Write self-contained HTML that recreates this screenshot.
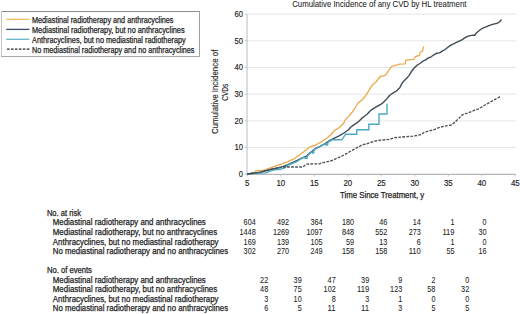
<!DOCTYPE html><html><head><meta charset="utf-8"><style>html,body{margin:0;padding:0;background:#fff;width:520px;height:314px;overflow:hidden}svg{display:block}text{font-family:"Liberation Sans",sans-serif}</style></head><body>
<svg width="520" height="314" viewBox="0 0 520 314">
<line x1="1" y1="11.5" x2="200" y2="11.5" stroke="#8c8c8c" stroke-width="1"/>
<line x1="1.5" y1="11" x2="1.5" y2="57" stroke="#c4c4c4" stroke-width="1"/>
<line x1="199.5" y1="11" x2="199.5" y2="57" stroke="#a0a0a0" stroke-width="1"/>
<line x1="1" y1="56.5" x2="200" y2="56.5" stroke="#a8a8a8" stroke-width="1"/>
<line x1="6.2" y1="19.4" x2="29.5" y2="19.4" stroke="#efbb62" stroke-width="1.3"/>
<text x="32" y="22.7" font-size="8.4" fill="#1e1e1e" stroke="#1e1e1e" stroke-width="0.25" textLength="141.5" lengthAdjust="spacingAndGlyphs">Mediastinal radiotherapy and anthracyclines</text>
<line x1="6.2" y1="29.4" x2="29.5" y2="29.4" stroke="#3b4c6b" stroke-width="1.3"/>
<text x="32" y="32.7" font-size="8.4" fill="#1e1e1e" stroke="#1e1e1e" stroke-width="0.25" textLength="152.6" lengthAdjust="spacingAndGlyphs">Mediastinal radiotherapy, but no anthracyclines</text>
<line x1="6.2" y1="39.3" x2="29.5" y2="39.3" stroke="#66b6ca" stroke-width="1.3"/>
<text x="32" y="42.7" font-size="8.4" fill="#1e1e1e" stroke="#1e1e1e" stroke-width="0.25" textLength="153.7" lengthAdjust="spacingAndGlyphs">Anthracyclines, but no mediastinal radiotherapy</text>
<line x1="7" y1="49.2" x2="29.5" y2="49.2" stroke="#2a2a2a" stroke-width="1.3" stroke-dasharray="2.6 1.35"/>
<text x="32" y="52.7" font-size="8.4" fill="#1e1e1e" stroke="#1e1e1e" stroke-width="0.25" textLength="162.5" lengthAdjust="spacingAndGlyphs">No mediastinal radiotherapy and no anthracyclines</text>
<text x="292.2" y="6.8" font-size="8.4" fill="#222" stroke="#222" stroke-width="0.06" textLength="174.3" lengthAdjust="spacingAndGlyphs">Cumulative Incidence of any CVD by HL treatment</text>
<line x1="247" y1="147.5" x2="516" y2="147.5" stroke="#e6e6e6" stroke-width="1"/>
<line x1="247" y1="120.9" x2="516" y2="120.9" stroke="#e6e6e6" stroke-width="1"/>
<line x1="247" y1="94.2" x2="516" y2="94.2" stroke="#e6e6e6" stroke-width="1"/>
<line x1="247" y1="67.5" x2="516" y2="67.5" stroke="#e6e6e6" stroke-width="1"/>
<line x1="247" y1="40.8" x2="516" y2="40.8" stroke="#e6e6e6" stroke-width="1"/>
<line x1="247" y1="14.2" x2="516" y2="14.2" stroke="#e6e6e6" stroke-width="1"/>
<line x1="247" y1="14" x2="247" y2="174.3" stroke="#bcbcbc" stroke-width="1"/>
<line x1="247" y1="174.3" x2="515.8" y2="174.3" stroke="#a4a4a4" stroke-width="1"/>
<line x1="245" y1="174.2" x2="247" y2="174.2" stroke="#c4c4c4" stroke-width="1"/>
<text x="243.0" y="177.1" font-size="8.6" fill="#222" stroke="#222" stroke-width="0.15" text-anchor="end" textLength="4.2" lengthAdjust="spacingAndGlyphs">0</text>
<line x1="245" y1="147.5" x2="247" y2="147.5" stroke="#c4c4c4" stroke-width="1"/>
<text x="243.0" y="150.4" font-size="8.6" fill="#222" stroke="#222" stroke-width="0.15" text-anchor="end" textLength="8.5" lengthAdjust="spacingAndGlyphs">10</text>
<line x1="245" y1="120.9" x2="247" y2="120.9" stroke="#c4c4c4" stroke-width="1"/>
<text x="243.0" y="123.8" font-size="8.6" fill="#222" stroke="#222" stroke-width="0.15" text-anchor="end" textLength="8.5" lengthAdjust="spacingAndGlyphs">20</text>
<line x1="245" y1="94.2" x2="247" y2="94.2" stroke="#c4c4c4" stroke-width="1"/>
<text x="243.0" y="97.1" font-size="8.6" fill="#222" stroke="#222" stroke-width="0.15" text-anchor="end" textLength="8.5" lengthAdjust="spacingAndGlyphs">30</text>
<line x1="245" y1="67.5" x2="247" y2="67.5" stroke="#c4c4c4" stroke-width="1"/>
<text x="243.0" y="70.4" font-size="8.6" fill="#222" stroke="#222" stroke-width="0.15" text-anchor="end" textLength="8.5" lengthAdjust="spacingAndGlyphs">40</text>
<line x1="245" y1="40.8" x2="247" y2="40.8" stroke="#c4c4c4" stroke-width="1"/>
<text x="243.0" y="43.7" font-size="8.6" fill="#222" stroke="#222" stroke-width="0.15" text-anchor="end" textLength="8.5" lengthAdjust="spacingAndGlyphs">50</text>
<line x1="245" y1="14.2" x2="247" y2="14.2" stroke="#c4c4c4" stroke-width="1"/>
<text x="243.0" y="17.1" font-size="8.6" fill="#222" stroke="#222" stroke-width="0.15" text-anchor="end" textLength="8.5" lengthAdjust="spacingAndGlyphs">60</text>
<line x1="247.3" y1="174.3" x2="247.3" y2="176.5" stroke="#c4c4c4" stroke-width="1"/>
<text x="247.3" y="185.7" font-size="8.6" fill="#222" stroke="#222" stroke-width="0.15" text-anchor="middle" textLength="4.4" lengthAdjust="spacingAndGlyphs">5</text>
<line x1="280.8" y1="174.3" x2="280.8" y2="176.5" stroke="#c4c4c4" stroke-width="1"/>
<text x="280.8" y="185.7" font-size="8.6" fill="#222" stroke="#222" stroke-width="0.15" text-anchor="middle" textLength="8.8" lengthAdjust="spacingAndGlyphs">10</text>
<line x1="314.3" y1="174.3" x2="314.3" y2="176.5" stroke="#c4c4c4" stroke-width="1"/>
<text x="314.3" y="185.7" font-size="8.6" fill="#222" stroke="#222" stroke-width="0.15" text-anchor="middle" textLength="8.8" lengthAdjust="spacingAndGlyphs">15</text>
<line x1="347.8" y1="174.3" x2="347.8" y2="176.5" stroke="#c4c4c4" stroke-width="1"/>
<text x="347.8" y="185.7" font-size="8.6" fill="#222" stroke="#222" stroke-width="0.15" text-anchor="middle" textLength="8.8" lengthAdjust="spacingAndGlyphs">20</text>
<line x1="381.3" y1="174.3" x2="381.3" y2="176.5" stroke="#c4c4c4" stroke-width="1"/>
<text x="381.3" y="185.7" font-size="8.6" fill="#222" stroke="#222" stroke-width="0.15" text-anchor="middle" textLength="8.8" lengthAdjust="spacingAndGlyphs">25</text>
<line x1="414.8" y1="174.3" x2="414.8" y2="176.5" stroke="#c4c4c4" stroke-width="1"/>
<text x="414.8" y="185.7" font-size="8.6" fill="#222" stroke="#222" stroke-width="0.15" text-anchor="middle" textLength="8.8" lengthAdjust="spacingAndGlyphs">30</text>
<line x1="448.3" y1="174.3" x2="448.3" y2="176.5" stroke="#c4c4c4" stroke-width="1"/>
<text x="448.3" y="185.7" font-size="8.6" fill="#222" stroke="#222" stroke-width="0.15" text-anchor="middle" textLength="8.8" lengthAdjust="spacingAndGlyphs">35</text>
<line x1="481.8" y1="174.3" x2="481.8" y2="176.5" stroke="#c4c4c4" stroke-width="1"/>
<text x="481.8" y="185.7" font-size="8.6" fill="#222" stroke="#222" stroke-width="0.15" text-anchor="middle" textLength="8.8" lengthAdjust="spacingAndGlyphs">40</text>
<line x1="515.3" y1="174.3" x2="515.3" y2="176.5" stroke="#c4c4c4" stroke-width="1"/>
<text x="515.3" y="185.7" font-size="8.6" fill="#222" stroke="#222" stroke-width="0.15" text-anchor="middle" textLength="8.8" lengthAdjust="spacingAndGlyphs">45</text>
<text x="340" y="198.2" font-size="8.5" fill="#1e1e1e" stroke="#1e1e1e" stroke-width="0.25" textLength="84.2" lengthAdjust="spacingAndGlyphs">Time Since Treatment, y</text>
<text transform="translate(217.6,134) rotate(-90)" x="0" y="0" font-size="8.5" fill="#2a2a2a" stroke="#2a2a2a" stroke-width="0.15" textLength="84.4" lengthAdjust="spacingAndGlyphs">Cumulative Incidence of</text>
<text transform="translate(228.0,100.8) rotate(-90)" x="0" y="0" font-size="8.5" fill="#2a2a2a" stroke="#2a2a2a" stroke-width="0.15" textLength="17" lengthAdjust="spacingAndGlyphs">CVDs</text>
<polyline points="247.3,174.0 255.5,172.9 255.5,170.8 263.0,170.5 269.2,168.4 275.2,166.2 281.3,164.2 287.3,161.8 293.4,159.2 299.4,155.0 305.0,150.8 309.1,147.6 312.3,146.0 315.5,145.1 321.8,141.6 328.2,137.0 331.0,134.5 334.3,130.6 339.1,127.7 343.9,123.0 345.0,120.1 347.8,117.3 350.6,114.0 353.4,110.6 356.2,106.0 357.5,103.7 360.0,101.5 363.0,99.0 366.5,94.4 370.0,88.7 372.9,84.4 376.5,81.5 380.1,76.5 383.7,75.8 386.0,74.6 388.7,70.4 391.6,66.3 397.2,64.9 399.6,64.1 405.1,63.8 405.9,60.1 413.9,59.3 415.5,56.5 419.5,55.4 420.3,52.2 422.7,51.0 423.5,46.4" fill="none" stroke="#eca94e" stroke-width="1.3" stroke-linejoin="round"/>
<polyline points="247.3,174.0 255.5,172.9 261.2,172.2 265.0,171.0 269.2,169.8 275.2,168.5 281.3,167.2 287.3,164.8 293.4,162.2 299.4,159.3 302.7,157.6 305.0,157.0 306.6,156.0 309.1,153.6 315.5,148.5 320.0,146.3 324.8,143.8 329.5,140.6 334.3,138.2 339.1,135.8 343.9,133.0 348.3,130.0 350.6,127.3 353.4,125.1 356.2,123.4 358.9,121.2 361.7,118.4 364.5,116.2 367.3,114.0 370.1,111.0 372.9,108.9 375.0,107.7 377.4,106.2 379.8,105.0 382.2,103.4 384.5,101.2 386.9,98.6 389.3,95.7 391.7,93.8 394.1,92.4 396.5,91.0 397.9,89.5 399.8,87.8 401.7,83.8 403.4,81.6 406.2,78.8 409.0,75.6 411.7,71.2 414.5,67.8 417.3,65.0 420.0,63.5 422.8,61.2 425.6,59.9 428.4,57.9 431.2,56.8 433.9,54.8 436.7,53.2 439.5,52.9 442.3,51.2 445.1,49.5 447.9,47.3 450.8,45.1 453.6,43.8 456.4,42.3 459.2,41.2 461.9,39.8 464.7,37.9 467.5,36.4 470.3,35.6 473.1,35.1 474.8,35.3 475.9,33.4 477.8,31.7 480.6,29.5 483.4,27.8 486.1,26.9 488.9,25.6 491.7,24.7 494.5,23.9 497.3,23.2 499.5,22.0 500.6,20.6 501.5,19.5" fill="none" stroke="#3e4b54" stroke-width="1.4" stroke-linejoin="round"/>
<polyline points="247.3,174.0 255.5,173.2 265.8,172.9 272.7,170.0 280.4,169.3 284.2,168.2 288.1,165.1 292.0,163.5 295.8,162.0 300.0,159.5 302.7,157.8 304.6,157.4 305.0,158.2 307.0,158.2 307.5,156.0 309.1,154.0 312.0,151.6 312.5,153.0 313.6,153.0 314.0,150.2 315.5,148.8 320.0,146.5 324.8,144.0 325.7,144.0 326.0,145.0 327.6,145.0 328.0,142.0 332.4,139.8 341.7,139.8 345.6,134.2 356.8,134.2 356.8,129.8 368.8,129.8 368.8,124.3 379.0,124.3 379.0,114.0 387.0,114.0 387.0,103.8" fill="none" stroke="#4aa8c4" stroke-width="1.4" stroke-linejoin="miter"/>
<polyline points="247.3,174.0 255.5,172.9" fill="none" stroke="#3e4b54" stroke-width="1.4" stroke-linejoin="round"/>
<polyline points="247.3,174.0 255.5,172.9 261.2,172.0 265.0,170.6 272.7,169.0 280.4,167.3 283.0,167.0 302.7,167.0 306.6,164.1 319.3,163.8 325.0,162.2 330.6,161.0 333.4,160.0 336.1,158.6 341.7,156.2 347.3,153.2 352.9,149.9 358.4,147.0 362.0,144.9 366.0,144.0 370.0,142.7 374.0,141.3 377.9,140.5 381.9,140.1 385.9,139.7 389.9,139.3 393.9,137.7 397.9,137.4 402.0,137.0 408.6,136.5 412.9,136.1 417.2,135.5 421.5,134.4 423.7,132.6 425.8,131.8 430.1,130.7 434.4,129.5 438.7,127.7 442.8,126.5 447.5,125.6 451.4,125.0 454.7,122.4 457.1,120.0 459.5,117.7 462.3,114.8 466.6,113.4 471.4,111.5 476.2,109.5 478.1,109.1 482.3,106.7 486.4,104.2 490.6,101.9 494.7,99.6 498.9,97.3 500.5,96.3" fill="none" stroke="#4a5259" stroke-width="1.35" stroke-dasharray="2.8 1.25"/>
<text x="46.9" y="215.8" font-size="8.5" fill="#1e1e1e" stroke="#1e1e1e" stroke-width="0.25" textLength="34.1" lengthAdjust="spacingAndGlyphs">No. at risk</text>
<text x="52.8" y="225.4" font-size="8.5" fill="#1e1e1e" stroke="#1e1e1e" stroke-width="0.25" textLength="153.0" lengthAdjust="spacingAndGlyphs">Mediastinal radiotherapy and anthracyclines</text>
<text x="255.7" y="225.4" font-size="8.5" fill="#1a1a1a" stroke="#1a1a1a" stroke-width="0.05" text-anchor="end" textLength="12.1" lengthAdjust="spacingAndGlyphs">604</text>
<text x="289.1" y="225.4" font-size="8.5" fill="#1a1a1a" stroke="#1a1a1a" stroke-width="0.05" text-anchor="end" textLength="12.1" lengthAdjust="spacingAndGlyphs">492</text>
<text x="322.6" y="225.4" font-size="8.5" fill="#1a1a1a" stroke="#1a1a1a" stroke-width="0.05" text-anchor="end" textLength="12.1" lengthAdjust="spacingAndGlyphs">364</text>
<text x="354.1" y="225.4" font-size="8.5" fill="#1a1a1a" stroke="#1a1a1a" stroke-width="0.05" text-anchor="end" textLength="12.1" lengthAdjust="spacingAndGlyphs">180</text>
<text x="387.3" y="225.4" font-size="8.5" fill="#1a1a1a" stroke="#1a1a1a" stroke-width="0.05" text-anchor="end" textLength="8.1" lengthAdjust="spacingAndGlyphs">46</text>
<text x="420.8" y="225.4" font-size="8.5" fill="#1a1a1a" stroke="#1a1a1a" stroke-width="0.05" text-anchor="end" textLength="8.1" lengthAdjust="spacingAndGlyphs">14</text>
<text x="454.5" y="225.4" font-size="8.5" fill="#1a1a1a" stroke="#1a1a1a" stroke-width="0.05" text-anchor="end" textLength="4.0" lengthAdjust="spacingAndGlyphs">1</text>
<text x="486.5" y="225.4" font-size="8.5" fill="#1a1a1a" stroke="#1a1a1a" stroke-width="0.05" text-anchor="end" textLength="4.0" lengthAdjust="spacingAndGlyphs">0</text>
<text x="52.8" y="235.0" font-size="8.5" fill="#1e1e1e" stroke="#1e1e1e" stroke-width="0.25" textLength="164.4" lengthAdjust="spacingAndGlyphs">Mediastinal radiotherapy, but no anthracyclines</text>
<text x="255.7" y="235.0" font-size="8.5" fill="#1a1a1a" stroke="#1a1a1a" stroke-width="0.05" text-anchor="end" textLength="16.2" lengthAdjust="spacingAndGlyphs">1448</text>
<text x="289.1" y="235.0" font-size="8.5" fill="#1a1a1a" stroke="#1a1a1a" stroke-width="0.05" text-anchor="end" textLength="16.2" lengthAdjust="spacingAndGlyphs">1269</text>
<text x="322.6" y="235.0" font-size="8.5" fill="#1a1a1a" stroke="#1a1a1a" stroke-width="0.05" text-anchor="end" textLength="16.2" lengthAdjust="spacingAndGlyphs">1097</text>
<text x="354.1" y="235.0" font-size="8.5" fill="#1a1a1a" stroke="#1a1a1a" stroke-width="0.05" text-anchor="end" textLength="12.1" lengthAdjust="spacingAndGlyphs">848</text>
<text x="387.3" y="235.0" font-size="8.5" fill="#1a1a1a" stroke="#1a1a1a" stroke-width="0.05" text-anchor="end" textLength="12.1" lengthAdjust="spacingAndGlyphs">552</text>
<text x="420.8" y="235.0" font-size="8.5" fill="#1a1a1a" stroke="#1a1a1a" stroke-width="0.05" text-anchor="end" textLength="12.1" lengthAdjust="spacingAndGlyphs">273</text>
<text x="454.5" y="235.0" font-size="8.5" fill="#1a1a1a" stroke="#1a1a1a" stroke-width="0.05" text-anchor="end" textLength="12.1" lengthAdjust="spacingAndGlyphs">119</text>
<text x="486.5" y="235.0" font-size="8.5" fill="#1a1a1a" stroke="#1a1a1a" stroke-width="0.05" text-anchor="end" textLength="8.1" lengthAdjust="spacingAndGlyphs">30</text>
<text x="52.8" y="244.6" font-size="8.5" fill="#1e1e1e" stroke="#1e1e1e" stroke-width="0.25" textLength="165.7" lengthAdjust="spacingAndGlyphs">Anthracyclines, but no mediastinal radiotherapy</text>
<text x="255.7" y="244.6" font-size="8.5" fill="#1a1a1a" stroke="#1a1a1a" stroke-width="0.05" text-anchor="end" textLength="12.1" lengthAdjust="spacingAndGlyphs">169</text>
<text x="289.1" y="244.6" font-size="8.5" fill="#1a1a1a" stroke="#1a1a1a" stroke-width="0.05" text-anchor="end" textLength="12.1" lengthAdjust="spacingAndGlyphs">139</text>
<text x="322.6" y="244.6" font-size="8.5" fill="#1a1a1a" stroke="#1a1a1a" stroke-width="0.05" text-anchor="end" textLength="12.1" lengthAdjust="spacingAndGlyphs">105</text>
<text x="354.1" y="244.6" font-size="8.5" fill="#1a1a1a" stroke="#1a1a1a" stroke-width="0.05" text-anchor="end" textLength="8.1" lengthAdjust="spacingAndGlyphs">59</text>
<text x="387.3" y="244.6" font-size="8.5" fill="#1a1a1a" stroke="#1a1a1a" stroke-width="0.05" text-anchor="end" textLength="8.1" lengthAdjust="spacingAndGlyphs">13</text>
<text x="420.8" y="244.6" font-size="8.5" fill="#1a1a1a" stroke="#1a1a1a" stroke-width="0.05" text-anchor="end" textLength="4.0" lengthAdjust="spacingAndGlyphs">6</text>
<text x="454.5" y="244.6" font-size="8.5" fill="#1a1a1a" stroke="#1a1a1a" stroke-width="0.05" text-anchor="end" textLength="4.0" lengthAdjust="spacingAndGlyphs">1</text>
<text x="486.5" y="244.6" font-size="8.5" fill="#1a1a1a" stroke="#1a1a1a" stroke-width="0.05" text-anchor="end" textLength="4.0" lengthAdjust="spacingAndGlyphs">0</text>
<text x="52.8" y="254.2" font-size="8.5" fill="#1e1e1e" stroke="#1e1e1e" stroke-width="0.25" textLength="175.3" lengthAdjust="spacingAndGlyphs">No mediastinal radiotherapy and no anthracyclines</text>
<text x="255.7" y="254.2" font-size="8.5" fill="#1a1a1a" stroke="#1a1a1a" stroke-width="0.05" text-anchor="end" textLength="12.1" lengthAdjust="spacingAndGlyphs">302</text>
<text x="289.1" y="254.2" font-size="8.5" fill="#1a1a1a" stroke="#1a1a1a" stroke-width="0.05" text-anchor="end" textLength="12.1" lengthAdjust="spacingAndGlyphs">270</text>
<text x="322.6" y="254.2" font-size="8.5" fill="#1a1a1a" stroke="#1a1a1a" stroke-width="0.05" text-anchor="end" textLength="12.1" lengthAdjust="spacingAndGlyphs">249</text>
<text x="354.1" y="254.2" font-size="8.5" fill="#1a1a1a" stroke="#1a1a1a" stroke-width="0.05" text-anchor="end" textLength="12.1" lengthAdjust="spacingAndGlyphs">158</text>
<text x="387.3" y="254.2" font-size="8.5" fill="#1a1a1a" stroke="#1a1a1a" stroke-width="0.05" text-anchor="end" textLength="12.1" lengthAdjust="spacingAndGlyphs">158</text>
<text x="420.8" y="254.2" font-size="8.5" fill="#1a1a1a" stroke="#1a1a1a" stroke-width="0.05" text-anchor="end" textLength="12.1" lengthAdjust="spacingAndGlyphs">110</text>
<text x="454.5" y="254.2" font-size="8.5" fill="#1a1a1a" stroke="#1a1a1a" stroke-width="0.05" text-anchor="end" textLength="8.1" lengthAdjust="spacingAndGlyphs">55</text>
<text x="486.5" y="254.2" font-size="8.5" fill="#1a1a1a" stroke="#1a1a1a" stroke-width="0.05" text-anchor="end" textLength="8.1" lengthAdjust="spacingAndGlyphs">16</text>
<text x="46.9" y="272.9" font-size="8.5" fill="#1e1e1e" stroke="#1e1e1e" stroke-width="0.25" textLength="45" lengthAdjust="spacingAndGlyphs">No. of events</text>
<text x="52.8" y="282.5" font-size="8.5" fill="#1e1e1e" stroke="#1e1e1e" stroke-width="0.25" textLength="153.0" lengthAdjust="spacingAndGlyphs">Mediastinal radiotherapy and anthracyclines</text>
<text x="268.2" y="282.5" font-size="8.5" fill="#1a1a1a" stroke="#1a1a1a" stroke-width="0.05" text-anchor="end" textLength="8.1" lengthAdjust="spacingAndGlyphs">22</text>
<text x="301.7" y="282.5" font-size="8.5" fill="#1a1a1a" stroke="#1a1a1a" stroke-width="0.05" text-anchor="end" textLength="8.1" lengthAdjust="spacingAndGlyphs">39</text>
<text x="335.7" y="282.5" font-size="8.5" fill="#1a1a1a" stroke="#1a1a1a" stroke-width="0.05" text-anchor="end" textLength="8.1" lengthAdjust="spacingAndGlyphs">47</text>
<text x="369.2" y="282.5" font-size="8.5" fill="#1a1a1a" stroke="#1a1a1a" stroke-width="0.05" text-anchor="end" textLength="8.1" lengthAdjust="spacingAndGlyphs">39</text>
<text x="402.2" y="282.5" font-size="8.5" fill="#1a1a1a" stroke="#1a1a1a" stroke-width="0.05" text-anchor="end" textLength="4.0" lengthAdjust="spacingAndGlyphs">9</text>
<text x="435.4" y="282.5" font-size="8.5" fill="#1a1a1a" stroke="#1a1a1a" stroke-width="0.05" text-anchor="end" textLength="4.0" lengthAdjust="spacingAndGlyphs">2</text>
<text x="469.2" y="282.5" font-size="8.5" fill="#1a1a1a" stroke="#1a1a1a" stroke-width="0.05" text-anchor="end" textLength="4.0" lengthAdjust="spacingAndGlyphs">0</text>
<text x="52.8" y="292.1" font-size="8.5" fill="#1e1e1e" stroke="#1e1e1e" stroke-width="0.25" textLength="164.4" lengthAdjust="spacingAndGlyphs">Mediastinal radiotherapy, but no anthracyclines</text>
<text x="268.2" y="292.1" font-size="8.5" fill="#1a1a1a" stroke="#1a1a1a" stroke-width="0.05" text-anchor="end" textLength="8.1" lengthAdjust="spacingAndGlyphs">48</text>
<text x="301.7" y="292.1" font-size="8.5" fill="#1a1a1a" stroke="#1a1a1a" stroke-width="0.05" text-anchor="end" textLength="8.1" lengthAdjust="spacingAndGlyphs">75</text>
<text x="335.7" y="292.1" font-size="8.5" fill="#1a1a1a" stroke="#1a1a1a" stroke-width="0.05" text-anchor="end" textLength="12.1" lengthAdjust="spacingAndGlyphs">102</text>
<text x="369.2" y="292.1" font-size="8.5" fill="#1a1a1a" stroke="#1a1a1a" stroke-width="0.05" text-anchor="end" textLength="12.1" lengthAdjust="spacingAndGlyphs">119</text>
<text x="402.2" y="292.1" font-size="8.5" fill="#1a1a1a" stroke="#1a1a1a" stroke-width="0.05" text-anchor="end" textLength="12.1" lengthAdjust="spacingAndGlyphs">123</text>
<text x="435.4" y="292.1" font-size="8.5" fill="#1a1a1a" stroke="#1a1a1a" stroke-width="0.05" text-anchor="end" textLength="8.1" lengthAdjust="spacingAndGlyphs">58</text>
<text x="469.2" y="292.1" font-size="8.5" fill="#1a1a1a" stroke="#1a1a1a" stroke-width="0.05" text-anchor="end" textLength="8.1" lengthAdjust="spacingAndGlyphs">32</text>
<text x="52.8" y="301.7" font-size="8.5" fill="#1e1e1e" stroke="#1e1e1e" stroke-width="0.25" textLength="165.7" lengthAdjust="spacingAndGlyphs">Anthracyclines, but no mediastinal radiotherapy</text>
<text x="268.2" y="301.7" font-size="8.5" fill="#1a1a1a" stroke="#1a1a1a" stroke-width="0.05" text-anchor="end" textLength="4.0" lengthAdjust="spacingAndGlyphs">3</text>
<text x="301.7" y="301.7" font-size="8.5" fill="#1a1a1a" stroke="#1a1a1a" stroke-width="0.05" text-anchor="end" textLength="8.1" lengthAdjust="spacingAndGlyphs">10</text>
<text x="335.7" y="301.7" font-size="8.5" fill="#1a1a1a" stroke="#1a1a1a" stroke-width="0.05" text-anchor="end" textLength="4.0" lengthAdjust="spacingAndGlyphs">8</text>
<text x="369.2" y="301.7" font-size="8.5" fill="#1a1a1a" stroke="#1a1a1a" stroke-width="0.05" text-anchor="end" textLength="4.0" lengthAdjust="spacingAndGlyphs">3</text>
<text x="402.2" y="301.7" font-size="8.5" fill="#1a1a1a" stroke="#1a1a1a" stroke-width="0.05" text-anchor="end" textLength="4.0" lengthAdjust="spacingAndGlyphs">1</text>
<text x="435.4" y="301.7" font-size="8.5" fill="#1a1a1a" stroke="#1a1a1a" stroke-width="0.05" text-anchor="end" textLength="4.0" lengthAdjust="spacingAndGlyphs">0</text>
<text x="469.2" y="301.7" font-size="8.5" fill="#1a1a1a" stroke="#1a1a1a" stroke-width="0.05" text-anchor="end" textLength="4.0" lengthAdjust="spacingAndGlyphs">0</text>
<text x="52.8" y="311.3" font-size="8.5" fill="#1e1e1e" stroke="#1e1e1e" stroke-width="0.25" textLength="175.3" lengthAdjust="spacingAndGlyphs">No mediastinal radiotherapy and no anthracyclines</text>
<text x="268.2" y="311.3" font-size="8.5" fill="#1a1a1a" stroke="#1a1a1a" stroke-width="0.05" text-anchor="end" textLength="4.0" lengthAdjust="spacingAndGlyphs">6</text>
<text x="301.7" y="311.3" font-size="8.5" fill="#1a1a1a" stroke="#1a1a1a" stroke-width="0.05" text-anchor="end" textLength="4.0" lengthAdjust="spacingAndGlyphs">5</text>
<text x="335.7" y="311.3" font-size="8.5" fill="#1a1a1a" stroke="#1a1a1a" stroke-width="0.05" text-anchor="end" textLength="8.1" lengthAdjust="spacingAndGlyphs">11</text>
<text x="369.2" y="311.3" font-size="8.5" fill="#1a1a1a" stroke="#1a1a1a" stroke-width="0.05" text-anchor="end" textLength="8.1" lengthAdjust="spacingAndGlyphs">11</text>
<text x="402.2" y="311.3" font-size="8.5" fill="#1a1a1a" stroke="#1a1a1a" stroke-width="0.05" text-anchor="end" textLength="4.0" lengthAdjust="spacingAndGlyphs">3</text>
<text x="435.4" y="311.3" font-size="8.5" fill="#1a1a1a" stroke="#1a1a1a" stroke-width="0.05" text-anchor="end" textLength="4.0" lengthAdjust="spacingAndGlyphs">5</text>
<text x="469.2" y="311.3" font-size="8.5" fill="#1a1a1a" stroke="#1a1a1a" stroke-width="0.05" text-anchor="end" textLength="4.0" lengthAdjust="spacingAndGlyphs">5</text>
</svg></body></html>
